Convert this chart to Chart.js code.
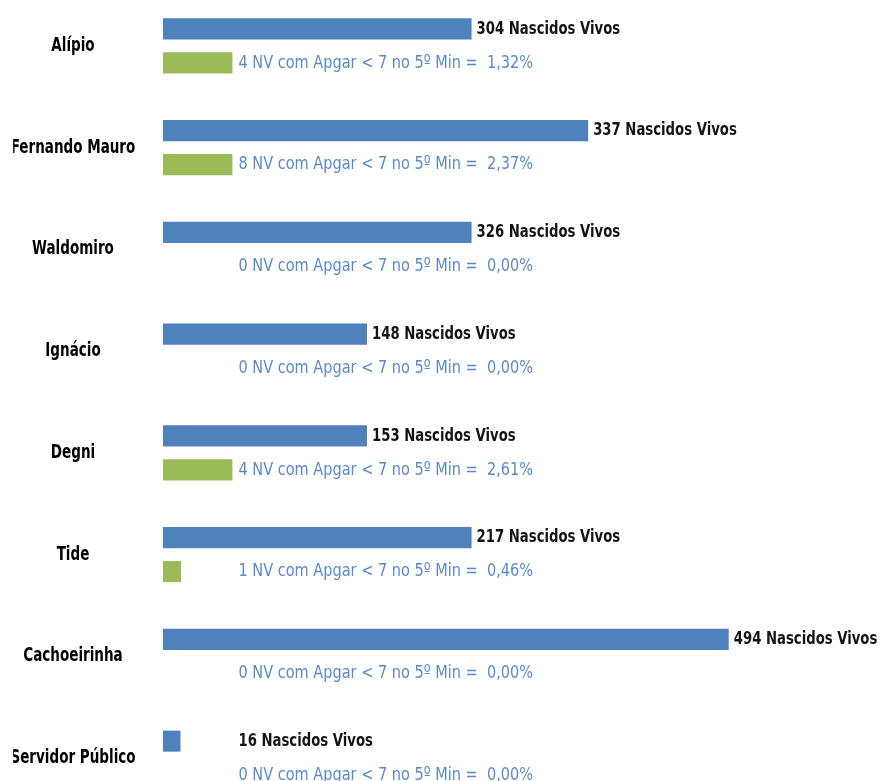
<!DOCTYPE html>
<html><head><meta charset="utf-8">
<script src="https://cdn.jsdelivr.net/npm/chart.js@4/dist/chart.umd.min.js"></script>
<style>
html,body{margin:0;padding:0;background:#fff;overflow:hidden;width:883px;height:781px}
#c{display:block;margin-top:-5px}
</style></head>
<body><canvas id="c" width="883" height="814"></canvas>
<script>
// Categories (units)
const categories = ['Alípio', 'Fernando Mauro', 'Waldomiro', 'Ignácio', 'Degni', 'Tide', 'Cachoeirinha', 'Servidor Público'];
// Label values
const nascidosVivos = [304, 337, 326, 148, 153, 217, 494, 16];
const nvApgarBaixo = [4, 8, 0, 0, 4, 1, 0, 0];
const percApgar = ['1,32%', '2,37%', '0,00%', '0,00%', '2,61%', '0,46%', '0,00%', '0,00%'];
// Bar lengths as drawn in the picture (relative units)
const blueBarLength = [18, 24.8, 18, 11.9, 11.9, 18, 33, 1.02];
const greenBarLength = [4.05, 4.05, 0, 0, 4.05, 1.05, 0, 0];

const FAM = '"DejaVu Sans Condensed", "Liberation Sans Narrow", sans-serif';

// Category axis whose labels are drawn horizontally condensed (Calibri-like narrow look)
class SqueezeCategoryScale extends Chart.CategoryScale {
  drawLabels(chartArea) {
    const items = this.getLabelItems(chartArea);
    if (!items.length) return;
    const cx = items[0].options.translation[0];
    const k = this.options.squeeze || 1;
    const target = this.options.labelCenterX != null ? this.options.labelCenterX : cx;
    const ctx = this.ctx;
    ctx.save();
    ctx.translate(target, 0);
    ctx.scale(k, 1);
    ctx.translate(-cx, 0);
    super.drawLabels(chartArea);
    ctx.restore();
  }
}
SqueezeCategoryScale.id = 'squeezeCategory';
SqueezeCategoryScale.defaults = Chart.CategoryScale.defaults;
Chart.register(SqueezeCategoryScale);

function squeezedText(ctx, text, x, y, k) {
  ctx.save();
  ctx.translate(x, y);
  ctx.scale(k, 1);
  ctx.fillText(text, 0, 0);
  ctx.restore();
}

const labelPlugin = {
  id: 'labels',
  afterDatasetsDraw(chart) {
    const ctx = chart.ctx;
    const xs = chart.scales.x;
    const fixedX = xs.getPixelForValue(4.05) + 6;
    const blue = chart.getDatasetMeta(0).data;
    const green = chart.getDatasetMeta(1).data;
    ctx.save();
    ctx.textBaseline = 'middle';
    ctx.textAlign = 'left';
    blue.forEach((el, i) => {
      ctx.font = 'bold 18.5px ' + FAM;
      ctx.fillStyle = '#141414';
      const x = Math.max(el.x + 5, fixedX);
      squeezedText(ctx, nascidosVivos[i] + ' Nascidos Vivos', x, el.y, 0.795);
    });
    green.forEach((el, i) => {
      ctx.font = '18.3px ' + FAM;
      ctx.fillStyle = '#5B8ACB';
      squeezedText(ctx, nvApgarBaixo[i] + ' NV com Apgar < 7 no 5º Min =  ' + percApgar[i], fixedX, el.y, 0.883);
    });
    ctx.restore();
  }
};

new Chart(document.getElementById('c'), {
  type: 'bar',
  data: {
    labels: categories,
    datasets: [
      { label: 'Nascidos Vivos', data: blueBarLength, backgroundColor: '#4F81BD', categoryPercentage: 0.668, barPercentage: 0.62 },
      { label: 'NV com Apgar < 7', data: greenBarLength, backgroundColor: '#9BBB59', categoryPercentage: 0.668, barPercentage: 0.62 }
    ]
  },
  options: {
    indexAxis: 'y',
    responsive: false,
    animation: false,
    devicePixelRatio: 1,
    layout: { padding: 0 },
    plugins: { legend: { display: false }, tooltip: { enabled: false } },
    scales: {
      x: { type: 'linear', min: 0, max: 42, display: false },
      y: {
        type: 'squeezeCategory',
        squeeze: 0.8,
        labelCenterX: 73,
        grid: { display: false, drawTicks: false },
        border: { display: false },
        ticks: { crossAlign: 'center', padding: 10, color: '#000000', font: { family: FAM, size: 18.8, weight: 'bold' } },
        afterFit(s) { s.width = 163; s.paddingTop = 0; s.paddingBottom = 0; }
      }
    }
  },
  plugins: [labelPlugin]
});
</script>
</body></html>
